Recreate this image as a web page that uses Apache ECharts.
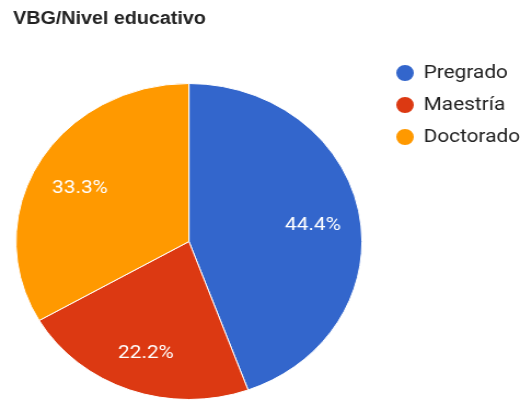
<!DOCTYPE html>
<html>
<head>
    <meta charset="utf-8">
    <title>VBG/Nivel educativo</title>
    <script src="https://cdn.jsdelivr.net/npm/echarts@6/dist/echarts.min.js"></script>
    <style>
        body { margin: 0; background: #fff; overflow: hidden; }
        /* the reference is stretched sideways, so the pie is an ellipse */
        #main { width: 475px; height: 405px; transform: scaleX(1.0947); transform-origin: 0 0; }
    </style>
</head>
<body>
<div id="main"></div>
<script type="text/javascript">
    var categories = ['Pregrado', 'Maestría', 'Doctorado'];
    var counts = [4, 2, 3];
    var colors = ['#3366cc', '#dc3912', '#ff9900'];

    var total = 0;
    for (var i = 0; i < counts.length; i++) total += counts[i];

    var pieData = [];
    for (var i = 0; i < categories.length; i++) {
        pieData.push({ name: categories[i], value: counts[i] });
    }

    var myChart = echarts.init(document.getElementById('main'));

    var option = {
        color: colors,
        animation: false,
        title: {
            text: 'VBG/Nivel educativo',
            left: 7,
            top: 5,
            textStyle: { fontFamily: 'Liberation Sans', fontWeight: 'bold', fontSize: 18, color: '#222' }
        },
        legend: {
            data: categories,
            orient: 'vertical',
            left: 355,
            top: 58,
            icon: 'circle',
            itemWidth: 18,
            itemHeight: 18,
            itemGap: 12,
            textStyle: { fontFamily: 'Roboto', fontSize: 19, color: '#222', padding: [0, 0, 0, 3] }
        },
        series: [
            {
                type: 'pie',
                center: [172.6, 241.5],
                radius: [0, 158],
                startAngle: 90,
                clockwise: true,
                label: { show: false },
                labelLine: { show: false },
                itemStyle: { borderColor: '#fff', borderWidth: 1 },
                emphasis: { disabled: true },
                data: pieData
            },
            {
                // transparent ring only used to place the labels
                type: 'pie',
                center: [172.6, 241.5],
                radius: [92, 132],
                startAngle: 90,
                clockwise: true,
                silent: true,
                legendHoverLink: false,
                itemStyle: { color: 'rgba(0,0,0,0)' },
                label: {
                    show: true,
                    position: 'inside',
                    offset: [0, 4],
                    fontFamily: 'Roboto',
                    fontSize: 19,
                    color: '#fff',
                    formatter: function (p) {
                        return (counts[p.dataIndex] / total * 100).toFixed(1) + '%';
                    }
                },
                labelLine: { show: false },
                emphasis: { disabled: true },
                data: pieData
            }
        ]
    };

    myChart.setOption(option);
</script>
</body>
</html>
